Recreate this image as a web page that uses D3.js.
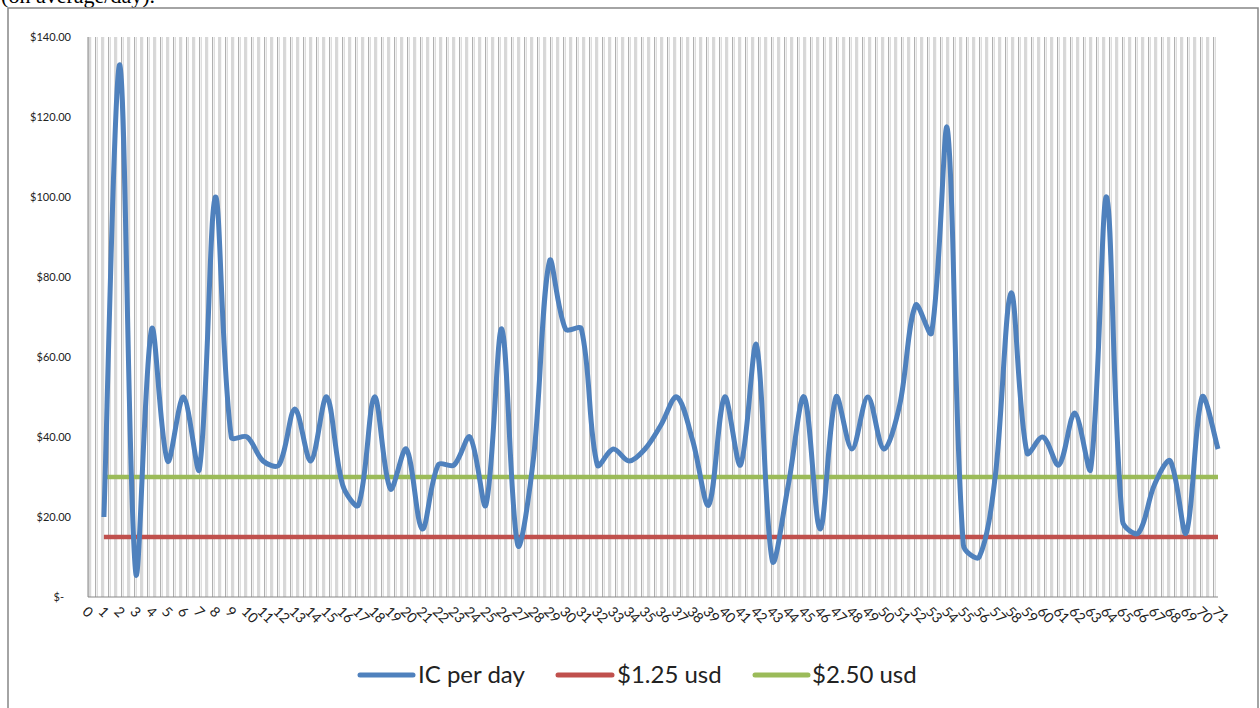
<!DOCTYPE html>
<html>
<head>
<meta charset="utf-8">
<script src="https://cdn.jsdelivr.net/npm/d3@7"></script>
<style>
  html, body { margin: 0; padding: 0; background: #fff; }
  svg { display: block; }
</style>
</head>
<body>
<svg id="chart" width="1260" height="708"></svg>
<script>
// ---- data ----
const xLabels = ["0","1","2","3","4","5","6","7","8","9","10","11","12","13","14","15","16","17","18","19","20","21","22","23","24","25","26","27","28","29","30","31","32","33","34","35","36","37","38","39","40","41","42","43","44","45","46","47","48","49","50","51","52","53","54","55","56","57","58","59","60","61","62","63","64","65","66","67","68","69","70","71"];
const days = [1,2,3,4,5,6,7,8,9,10,11,12,13,14,15,16,17,18,19,20,21,22,23,24,25,26,27,28,29,30,31,32,33,34,35,36,37,38,39,40,41,42,43,44,45,46,47,48,49,50,51,52,53,54,55,56,57,58,59,60,61,62,63,64,65,66,67,68,69,70,71];
const icPerDay = [20,133,6,67,34,50,32,100,40,40,34,33,47,34,50,28,23,50,27,37,17,33,33,40,23,67,13,35,84,67,67,33,37,34,37,43,50,39,23,50,33,63,9,28,50,17,50,37,50,37,48,73,66,117,13,10,30,76,36,40,33,46,32,100,19,16,28,34,16,50,37];
const line125 = 15;
const line250 = 30;
const yTicks = [0,20,40,60,80,100,120,140];
const yTickLabels = ["$-","$20.00","$40.00","$60.00","$80.00","$100.00","$120.00","$140.00"];
const seriesNames = ["IC per day","$1.25 usd","$2.50 usd"];
const seriesColors = ["#4F81BD","#C0504D","#9BBB59"];

// ---- layout ----
const svg = d3.select("#chart");
const L = 88, R = 1218, T = 37, B = 597;
const x = d3.scaleLinear().domain([0, 71]).range([L, R]);
const y = d3.scaleLinear().domain([0, 140]).range([B, T]);

// top cut-off caption text
svg.append("text").attr("x", 155).attr("y", 3).attr("text-anchor", "end")
  .attr("font-family", "Liberation Serif, serif").attr("font-size", 22).attr("fill", "#000")
  .text("(on average/day).");

// chart frame
svg.append("rect").attr("x", 8).attr("y", 8).attr("width", 1250).attr("height", 740)
  .attr("fill", "#fff").attr("stroke", "#868686").attr("stroke-width", 1.5);

// plot area pattern of vertical lines
const g = svg.append("g");
const stripes = d3.range(L + 1, R, 6.5);
g.selectAll("line.d").data(stripes).join("line")
  .attr("x1", d => d).attr("x2", d => d).attr("y1", T).attr("y2", B)
  .attr("stroke", "#b0b0b0").attr("stroke-width", 1);
g.selectAll("line.l").data(stripes.filter(d => d + 1.7 < R)).join("line").attr("class","l")
  .attr("x1", d => d + 1.7).attr("x2", d => d + 1.7).attr("y1", T).attr("y2", B)
  .attr("stroke", "#d0d0d0").attr("stroke-width", 1);

// axes lines
svg.append("line").attr("x1", L).attr("x2", L).attr("y1", T).attr("y2", B).attr("stroke", "#888").attr("stroke-width", 1);
svg.append("line").attr("x1", L).attr("x2", R).attr("y1", B).attr("y2", B).attr("stroke", "#888").attr("stroke-width", 1.2);

// y axis labels
svg.append("g").selectAll("text").data(yTicks).join("text")
  .attr("x", (d, i) => i === 0 ? 64 : 71)
  .attr("y", d => y(d))
  .attr("dy", "0.35em")
  .attr("text-anchor", "end")
  .attr("font-family", "Lato, sans-serif").attr("font-size", 11).attr("fill", "#222")
  .text((d, i) => yTickLabels[i]);

// x axis labels
svg.append("g").selectAll("text").data(xLabels).join("text")
  .attr("transform", (d, i) => `translate(${x(i) - 3},${609}) rotate(45)`)
  .attr("dy", "0.35em")
  .attr("font-family", "Lato, sans-serif").attr("font-size", 14).attr("fill", "#222")
  .text(d => d);

// reference lines
const flat = (v) => d3.line().x(d => x(d)).y(() => y(v));
svg.append("path").datum(days).attr("d", flat(line125))
  .attr("fill", "none").attr("stroke", seriesColors[1]).attr("stroke-width", 4.5);
svg.append("path").datum(days).attr("d", flat(line250))
  .attr("fill", "none").attr("stroke", seriesColors[2]).attr("stroke-width", 4.5);

// main series: spreadsheet-style smoothed bezier (segment-length weighted tangents)
function smoothPath(points) {
  const p = d3.path();
  const n = points.length;
  const P = points;
  const ctrl = P.map((pt, i) => {
    const prev = P[Math.max(0, i - 1)], next = P[Math.min(n - 1, i + 1)];
    const tx = next[0] - prev[0], ty = next[1] - prev[1];
    const d1 = Math.hypot(pt[0] - prev[0], pt[1] - prev[1]);
    const d2 = Math.hypot(next[0] - pt[0], next[1] - pt[1]);
    const s = d1 + d2 || 1;
    let fIn = d1 / s / 3, fOut = d2 / s / 3;
    if (i === 0 || i === n - 1) { fIn = fOut = 1 / 6; }
    return {
      inX: pt[0] - tx * fIn, inY: pt[1] - ty * fIn,
      outX: pt[0] + tx * fOut, outY: pt[1] + ty * fOut
    };
  });
  p.moveTo(P[0][0], P[0][1]);
  for (let i = 1; i < n; i++) {
    p.bezierCurveTo(ctrl[i - 1].outX, ctrl[i - 1].outY, ctrl[i].inX, ctrl[i].inY, P[i][0], P[i][1]);
  }
  return p.toString();
}
const pts = days.map((d, i) => [x(d), y(icPerDay[i])]);
svg.append("path").attr("d", smoothPath(pts))
  .attr("fill", "none").attr("stroke", seriesColors[0]).attr("stroke-width", 5)
  .attr("stroke-linejoin", "round");

// legend
const legendItems = [
  {x1: 360, x2: 413, tx: 418},
  {x1: 558, x2: 612, tx: 617},
  {x1: 755, x2: 808, tx: 812}
];
const lg = svg.append("g");
lg.selectAll("line").data(legendItems).join("line")
  .attr("x1", d => d.x1).attr("x2", d => d.x2).attr("y1", 675).attr("y2", 675)
  .attr("stroke", (d, i) => seriesColors[i]).attr("stroke-width", 5).attr("stroke-linecap", "round");
lg.selectAll("text").data(legendItems).join("text")
  .attr("x", d => d.tx).attr("y", 675).attr("dy", "0.35em")
  .attr("font-family", "Lato, sans-serif").attr("font-size", 24).attr("fill", "#222")
  .text((d, i) => seriesNames[i]);
</script>
</body>
</html>
